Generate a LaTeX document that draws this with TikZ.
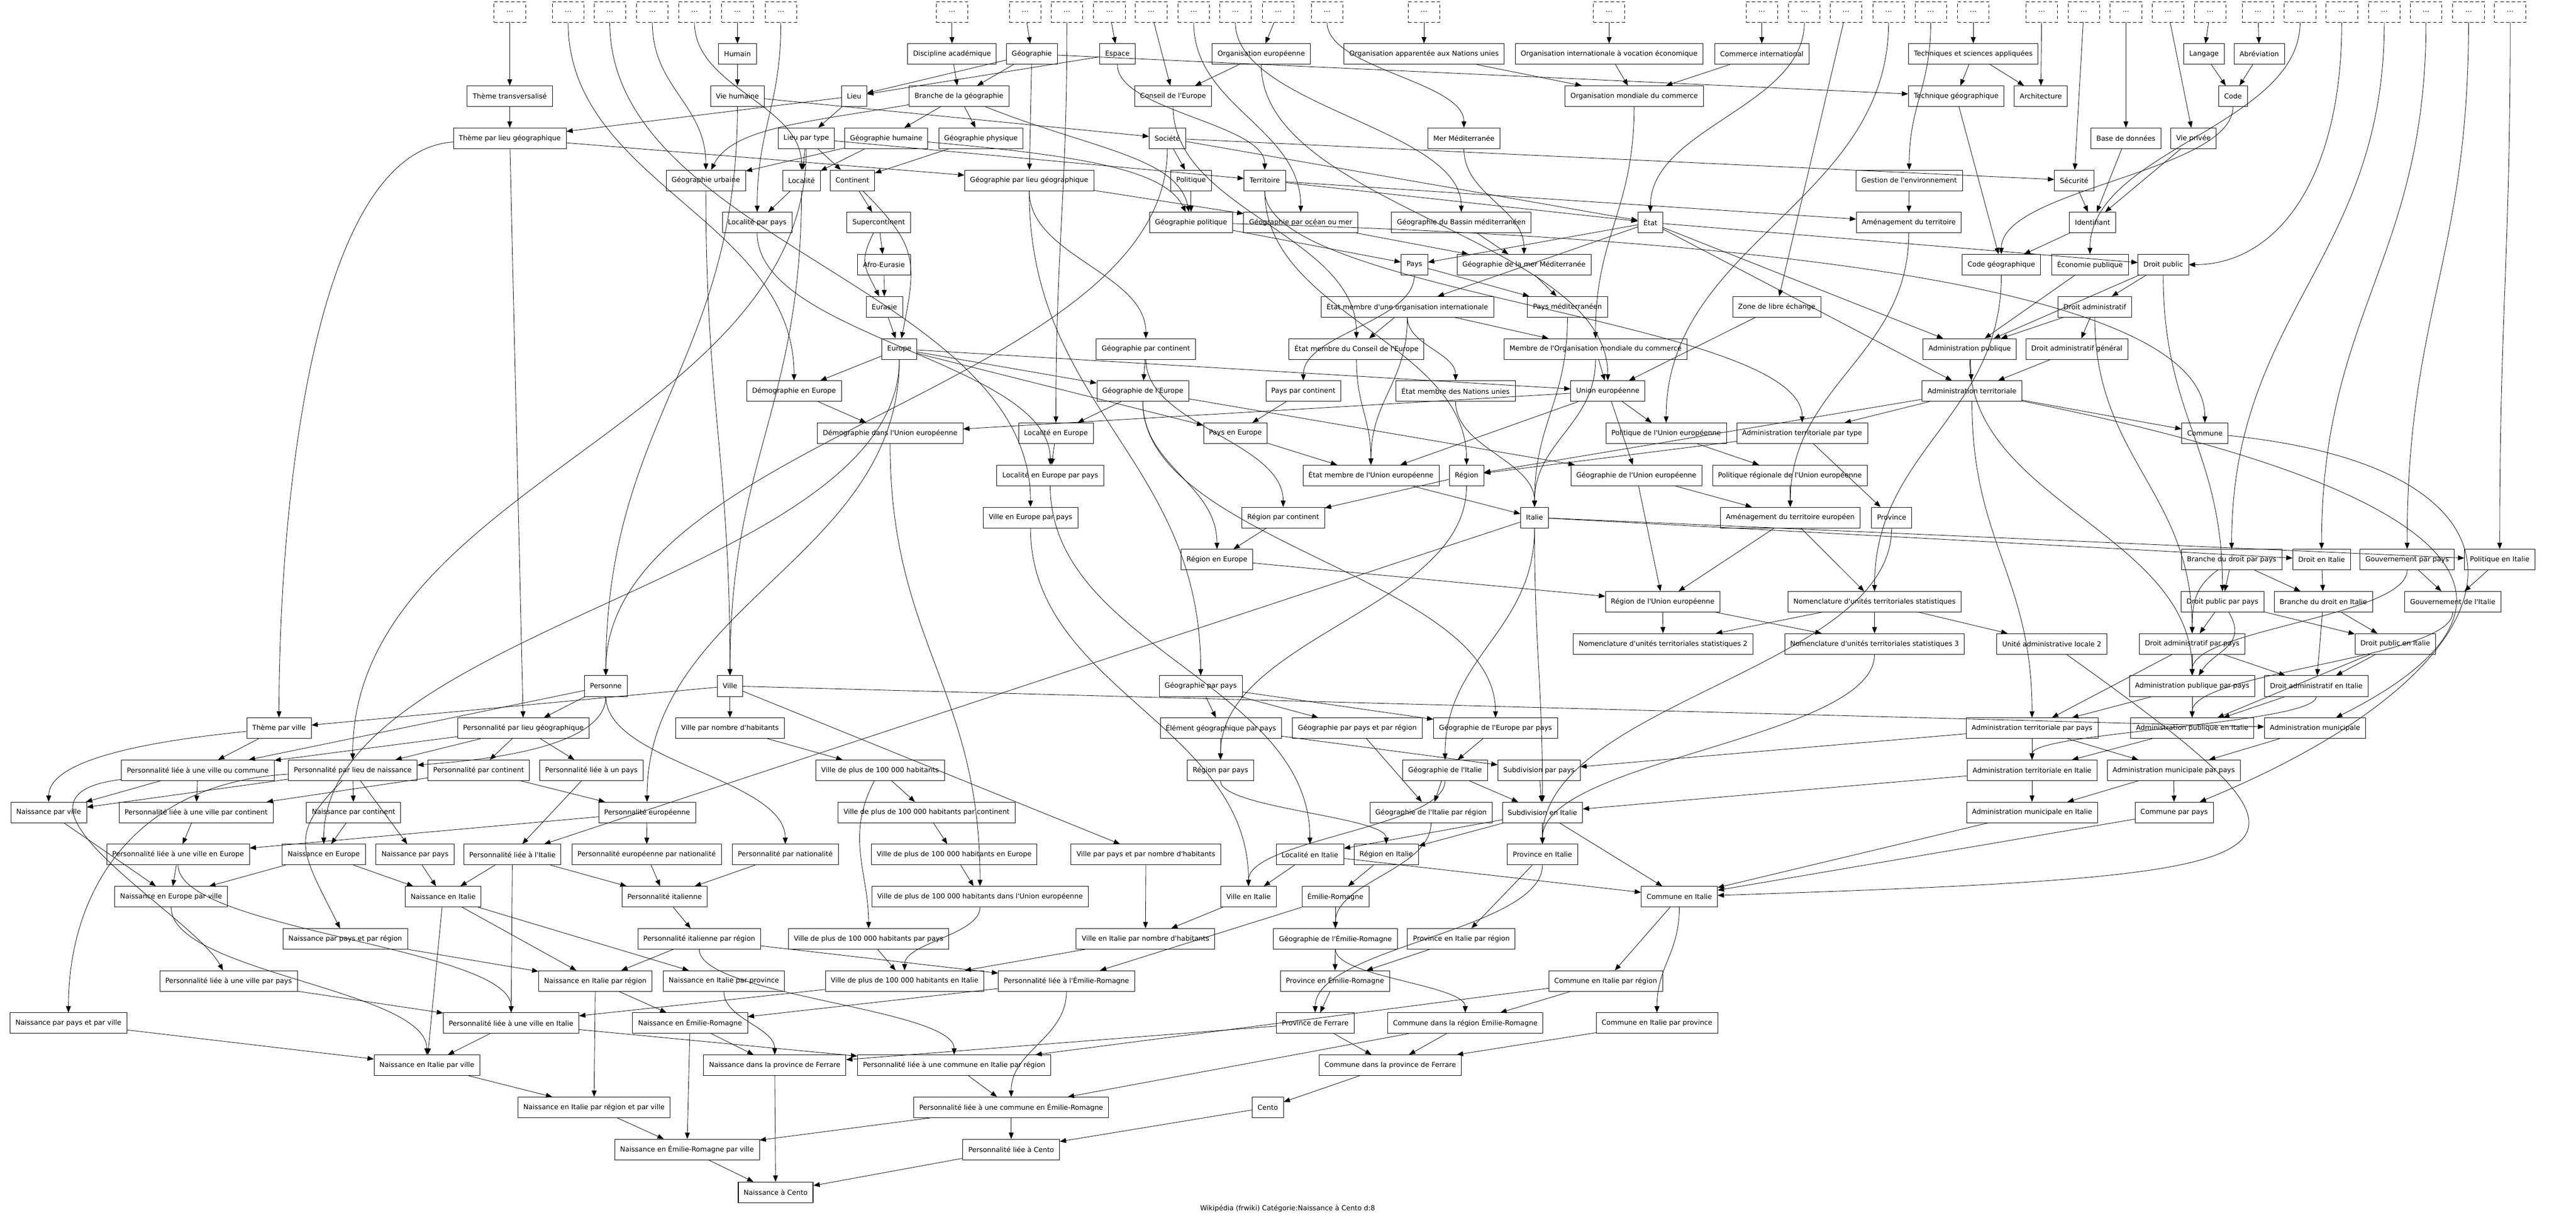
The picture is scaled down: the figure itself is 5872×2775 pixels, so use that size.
\documentclass[tikz,border=0pt]{standalone}
\usepackage{fontspec}
\setmainfont{DejaVu Sans}
\usetikzlibrary{arrows.meta,calc}
\newcommand{\apo}{\textquotesingle}
\newcommand{\Ed}[2]{\draw[ar] (#1) -- (#2);}
\newcommand{\Cu}[2]{\draw[ar] let \p1=(#1), \p2=(#2), \n1={0.45*abs(\y2-\y1)} in (#1) .. controls +(0pt,-\n1) and +(0pt,\n1) .. (#2);}
\tikzset{
 nd/.style={draw, line width=0.75pt, minimum height=36pt, inner xsep=9.6pt, inner ysep=2pt, font=\fontsize{12pt}{14pt}\selectfont},
 dsh/.style={draw, line width=0.75pt, dash pattern=on 6pt off 4pt, minimum width=55pt, minimum height=36pt, inner sep=0pt, font=\fontsize{12pt}{14pt}\selectfont},
 bnd/.style={nd, line width=1.5pt},
 ar/.style={-{Triangle[length=11pt,width=8.5pt]}, line width=0.75pt},
}
\begin{document}
\begin{tikzpicture}[x=0.766pt,y=-0.766pt]
\fill[white] (0,0) rectangle (5872,2775);
\path[use as bounding box] (0,0) rectangle (5872,2775);
% rank 0 dashed
\foreach \xx in {1162,1295,1390,1487,1583,1681,1780,2170,2337,2432,2529,2624,2721,2816,2914,3025,3246,3668,4016,4113,4208,4305,4401,4498,4654,4750,4846,4942,5038,5147,5243,5338,5435,5530,5627,5722}
  {\node[dsh] (d\xx) at (\xx,27) {…};}
% rank 1
\node[nd] (humain) at (1681,123) {Humain};
\node[nd] (discacad) at (2170,123) {Discipline académique};
\node[nd] (geo) at (2352,123) {Géographie};
\node[nd] (espace) at (2547,123) {Espace};
\node[nd] (orgeur) at (2875,123) {Organisation européenne};
\node[nd] (orgnu) at (3246,123) {Organisation apparentée aux Nations unies};
\node[nd] (orgeco) at (3668,123) {Organisation internationale à vocation économique};
\node[nd] (comint) at (4016,123) {Commerce international};
\node[nd] (techsci) at (4498,123) {Techniques et sciences appliquées};
\node[nd] (langage) at (5024,123) {Langage};
\node[nd] (abrev) at (5150,123) {Abréviation};
% rank 2
\node[nd] (ttrans) at (1162,219) {Thème transversalisé};
\node[nd] (viehum) at (1681,219) {Vie humaine};
\node[nd] (lieu) at (1947,219) {Lieu};
\node[nd] (branche) at (2186,219) {Branche de la géographie};
\node[nd] (conseil) at (2674,219) {Conseil de l\apo Europe};
\node[nd] (omc) at (3725,219) {Organisation mondiale du commerce};
\node[nd] (techgeo) at (4459,219) {Technique géographique};
\node[nd] (archi) at (4652,219) {Architecture};
\node[nd] (code) at (5090,219) {Code};
% rank 3
\node[nd] (tplg) at (1162,315) {Thème par lieu géographique};
\node[nd] (lieutype) at (1838,315) {Lieu par type};
\node[nd] (geohum) at (2020,315) {Géographie humaine};
\node[nd] (geophys) at (2236,315) {Géographie physique};
\node[nd] (societe) at (2661,315) {Société};
\node[nd] (mermed) at (3337,315) {Mer Méditerranée};
\node[nd] (basedon) at (4846,315) {Base de données};
\node[nd] (vieprivee) at (5000,315) {Vie privée};
% rank 4
\node[nd] (geourb) at (1609,411) {Géographie urbaine};
\node[nd] (localite) at (1827,411) {Localité};
\node[nd] (continent) at (1943,411) {Continent};
\node[nd] (gplg) at (2346,411) {Géographie par lieu géographique};
\node[nd] (politique) at (2715,411) {Politique};
\node[nd] (territoire) at (2883,411) {Territoire};
\node[nd] (gestenv) at (4352,411) {Gestion de l\apo environnement};
\node[nd] (securite) at (4728,411) {Sécurité};
% rank 5
\node[nd] (locpays) at (1726,507) {Localité par pays};
\node[nd] (supercont) at (2003,507) {Supercontinent};
\node[nd] (geopol) at (2715,507) {Géographie politique};
\node[nd] (geoocean) at (2965,507) {Géographie par océan ou mer};
\node[nd] (geobassin) at (3331,507) {Géographie du Bassin méditerranéen};
\node[nd] (etat) at (3762,507) {État};
\node[nd] (amenag) at (4351,507) {Aménagement du territoire};
\node[nd] (identif) at (4770,507) {Identifiant};
% rank 6
\node[nd] (afroeur) at (2015,603) {Afro-Eurasie};
\node[nd] (pays) at (3224,603) {Pays};
\node[nd] (geomermed) at (3474,603) {Géographie de la mer Méditerranée};
\node[nd] (codegeo) at (4562,603) {Code géographique};
\node[nd] (ecopub) at (4764,603) {Économie publique};
\node[nd] (droitpub) at (4931,603) {Droit public};
% rank 7
\node[nd] (eurasie) at (2016,699) {Eurasie};
\node[nd] (emoi) at (3208,699) {État membre d\apo une organisation internationale};
\node[nd] (paysmed) at (3573,699) {Pays méditerranéen};
\node[nd] (zle) at (4050,699) {Zone de libre échange};
\node[nd] (droitadm) at (4775,699) {Droit administratif};
% rank 8
\node[nd] (europe) at (2050,795) {Europe};
\node[nd] (geocont) at (2612,795) {Géographie par continent};
\node[nd] (emcde) at (3092,795) {État membre du Conseil de l\apo Europe};
\node[nd] (memomc) at (3637,795) {Membre de l\apo Organisation mondiale du commerce};
\node[nd] (adminpub) at (4490,795) {Administration publique};
\node[nd] (droitadmgen) at (4734,795) {Droit administratif général};
% rank 9
\node[nd] (demoeur) at (1810,891) {Démographie en Europe};
\node[nd] (geoeur) at (2605,891) {Géographie de l\apo Europe};
\node[nd] (payscont) at (2971,891) {Pays par continent};
\node[nd] (emnu) at (3318,891) {État membre des Nations unies};
\node[nd] (ue) at (3665,891) {Union européenne};
\node[nd] (admterr) at (4495,891) {Administration territoriale};
% rank 10
\node[nd] (demoue) at (2029,987) {Démographie dans l\apo Union européenne};
\node[nd] (loceur) at (2407,987) {Localité en Europe};
\node[nd] (payseur) at (2816,987) {Pays en Europe};
\node[nd] (polue) at (3798,987) {Politique de l\apo Union européenne};
\node[nd] (atpt) at (4108,987) {Administration territoriale par type};
\node[nd] (commune) at (5026,987) {Commune};
% rank 11
\node[nd] (loceurpays) at (2394,1083) {Localité en Europe par pays};
\node[nd] (emue) at (3125,1083) {État membre de l\apo Union européenne};
\node[nd] (region) at (3343,1083) {Région};
\node[nd] (geoue) at (3730,1083) {Géographie de l\apo Union européenne};
\node[nd] (polregue) at (4080,1083) {Politique régionale de l\apo Union européenne};
% rank 12
\node[nd] (villeeurpays) at (2349,1179) {Ville en Europe par pays};
\node[nd] (regcont) at (2925,1179) {Région par continent};
\node[nd] (italie) at (3498,1179) {Italie};
\node[nd] (atde) at (4081,1179) {Aménagement du territoire européen};
\node[nd] (province) at (4312,1179) {Province};
% rank 13
\node[nd] (regeur) at (2774,1275) {Région en Europe};
\node[nd] (bdpp) at (5087,1275) {Branche du droit par pays};
\node[nd] (droitit) at (5292,1275) {Droit en Italie};
\node[nd] (gouvpp) at (5487,1275) {Gouvernement par pays};
\node[nd] (polit) at (5698,1275) {Politique en Italie};
% rank 14
\node[nd] (regue) at (3790,1371) {Région de l\apo Union européenne};
\node[nd] (nuts) at (4273,1371) {Nomenclature d\apo unités territoriales statistiques};
\node[nd] (dppp) at (5066,1371) {Droit public par pays};
\node[nd] (bdit) at (5296,1371) {Branche du droit en Italie};
\node[nd] (gouvit) at (5591,1371) {Gouvernement de l\apo Italie};
% rank 15
\node[nd] (nuts2) at (3791,1467) {Nomenclature d\apo unités territoriales statistiques 2};
\node[nd] (nuts3) at (4273,1467) {Nomenclature d\apo unités territoriales statistiques 3};
\node[nd] (ual2) at (4677,1467) {Unité administrative locale 2};
\node[nd] (dapp) at (4997,1467) {Droit administratif par pays};
\node[nd] (dpit) at (5460,1467) {Droit public en Italie};
% rank 16
\node[nd] (personne) at (1381,1563) {Personne};
\node[nd] (ville) at (1664,1563) {Ville};
\node[nd] (geopays) at (2737,1563) {Géographie par pays};
\node[nd] (appp) at (4997,1563) {Administration publique par pays};
\node[nd] (dait) at (5280,1563) {Droit administratif en Italie};
% rank 17
\node[nd] (themeville) at (636,1659) {Thème par ville};
\node[nd] (pplg) at (1193,1659) {Personnalité par lieu géographique};
\node[nd] (villenb) at (1664,1659) {Ville par nombre d\apo habitants};
\node[nd] (elemgeo) at (2783,1659) {Élément géographique par pays};
\node[nd] (geopaysreg) at (3094,1659) {Géographie par pays et par région};
\node[nd] (geoeurpays) at (3409,1659) {Géographie de l\apo Europe par pays};
\node[nd] (atpp) at (4632,1659) {Administration territoriale par pays};
\node[nd] (apit) at (4997,1659) {Administration publique en Italie};
\node[nd] (admmun) at (5277,1659) {Administration municipale};
% rank 18
\node[nd] (plvc) at (451,1755) {Personnalité liée à une ville ou commune};
\node[nd] (ppln) at (804,1755) {Personnalité par lieu de naissance};
\node[nd] (ppcont) at (1091,1755) {Personnalité par continent};
\node[nd] (plpays) at (1348,1755) {Personnalité liée à un pays};
\node[nd] (v100k) at (2006,1755) {Ville de plus de 100~000 habitants};
\node[nd] (regpays) at (2782,1755) {Région par pays};
\node[nd] (geoit) at (3294,1755) {Géographie de l\apo Italie};
\node[nd] (subdpays) at (3508,1755) {Subdivision par pays};
\node[nd] (atit) at (4632,1755) {Administration territoriale en Italie};
\node[nd] (ampp) at (4955,1755) {Administration municipale par pays};
% rank 19
\node[nd] (naissville) at (111,1851) {Naissance par ville};
\node[nd] (plvcont) at (447,1851) {Personnalité liée à une ville par continent};
\node[nd] (naisscont) at (806,1851) {Naissance par continent};
\node[nd] (perseur) at (1475,1851) {Personnalité européenne};
\node[nd] (v100kcont) at (2112,1851) {Ville de plus de 100~000 habitants par continent};
\node[nd] (geoitreg) at (3262,1851) {Géographie de l\apo Italie par région};
\node[nd] (subdit) at (3516,1851) {Subdivision en Italie};
\node[nd] (amit) at (4632,1851) {Administration municipale en Italie};
\node[nd] (communepays) at (4956,1851) {Commune par pays};
% rank 20
\node[nd] (plveur) at (406,1947) {Personnalité liée à une ville en Europe};
\node[nd] (naisseur) at (738,1947) {Naissance en Europe};
\node[nd] (naisspays) at (946,1947) {Naissance par pays};
\node[nd] (plit) at (1168,1947) {Personnalité liée à l\apo Italie};
\node[nd] (pepn) at (1474,1947) {Personnalité européenne par nationalité};
\node[nd] (ppnat) at (1790,1947) {Personnalité par nationalité};
\node[nd] (v100keur) at (2175,1947) {Ville de plus de 100~000 habitants en Europe};
\node[nd] (vppnh) at (2612,1947) {Ville par pays et par nombre d\apo habitants};
\node[nd] (locit) at (2986,1947) {Localité en Italie};
\node[nd] (regit) at (3160,1947) {Région en Italie};
\node[nd] (provit) at (3516,1947) {Province en Italie};
% rank 21
\node[nd] (naisseurville) at (390,2043) {Naissance en Europe par ville};
\node[nd] (naissit) at (1010,2043) {Naissance en Italie};
\node[nd] (persit) at (1515,2043) {Personnalité italienne};
\node[nd] (v100kue) at (2234,2043) {Ville de plus de 100~000 habitants dans l\apo Union européenne};
\node[nd] (villeit) at (2846,2043) {Ville en Italie};
\node[nd] (er) at (3044,2043) {Émilie-Romagne};
\node[nd] (communeit) at (3828,2043) {Commune en Italie};
% rank 22
\node[nd] (naisspaysreg) at (787,2139) {Naissance par pays et par région};
\node[nd] (persitreg) at (1594,2139) {Personnalité italienne par région};
\node[nd] (v100kpays) at (1980,2139) {Ville de plus de 100~000 habitants par pays};
\node[nd] (vitnb) at (2611,2139) {Ville en Italie par nombre d\apo habitants};
\node[nd] (geoer) at (3044,2139) {Géographie de l\apo Émilie-Romagne};
\node[nd] (provitreg) at (3331,2139) {Province en Italie par région};
% rank 23
\node[nd] (plvpays) at (521,2235) {Personnalité liée à une ville par pays};
\node[nd] (naissitreg) at (1357,2235) {Naissance en Italie par région};
\node[nd] (naissitprov) at (1650,2235) {Naissance en Italie par province};
\node[nd] (v100kit) at (2062,2235) {Ville de plus de 100~000 habitants en Italie};
\node[nd] (pler) at (2431,2235) {Personnalité liée à l\apo Émilie-Romagne};
\node[nd] (proveer) at (3043,2235) {Province en Émilie-Romagne};
\node[nd] (communeitreg) at (3660,2235) {Commune en Italie par région};
% rank 24
\node[nd] (naisspaysville) at (156,2331) {Naissance par pays et par ville};
\node[nd] (plvit) at (1165,2331) {Personnalité liée à une ville en Italie};
\node[nd] (naisser) at (1573,2331) {Naissance en Émilie-Romagne};
\node[nd] (provferrare) at (2998,2331) {Province de Ferrare};
\node[nd] (communeregER) at (3340,2331) {Commune dans la région Émilie-Romagne};
\node[nd] (communeitprov) at (3777,2331) {Commune en Italie par province};
% rank 25
\node[nd] (naissitville) at (973,2427) {Naissance en Italie par ville};
\node[nd] (naissferrare) at (1766,2427) {Naissance dans la province de Ferrare};
\node[nd] (plcitreg) at (2175,2427) {Personnalité liée à une commune en Italie par région};
\node[nd] (communeferrare) at (3169,2427) {Commune dans la province de Ferrare};
% rank 26
\node[nd] (naissitregville) at (1354,2523) {Naissance en Italie par région et par ville};
\node[nd] (plcer) at (2305,2523) {Personnalité liée à une commune en Émilie-Romagne};
\node[nd] (cento) at (2890,2523) {Cento};
% rank 27
\node[nd] (naisserville) at (1566,2619) {Naissance en Émilie-Romagne par ville};
\node[nd] (plcento) at (2305,2619) {Personnalité liée à Cento};
% rank 28
\node[bnd] (naisscento) at (1768,2717) {Naissance à Cento};
\node[font=\fontsize{12pt}{14pt}\selectfont] (cap) at (2935,2753) {Wikipédia (frwiki) Catégorie:Naissance à Cento d:8};

% ---- edges from dashed
\Ed{d1162}{ttrans}
\Cu{d1295}{demoeur}
\Cu{d1390}{villeeurpays}
\Cu{d1487}{geourb}
\Cu{d1583}{localite}
\Ed{d1681}{humain}
\Cu{d1780}{locpays}
\Ed{d2170}{discacad}
\Ed{d2337}{geo}
\Cu{d2432}{loceur}
\Ed{d2529}{espace}
\Ed{d2624}{conseil}
\Cu{d2721}{geoocean}
\Cu{d2816}{geobassin}
\Ed{d2914}{orgeur}
\Cu{d3025}{mermed}
\Ed{d3246}{orgnu}
\Ed{d3668}{orgeco}
\Ed{d4016}{comint}
\Cu{d4113}{etat}
\Ed{d4208}{zle}
\Cu{d4305}{polue}
\Cu{d4401}{gestenv}
\Ed{d4498}{techsci}
\Ed{d4654}{archi}
\Ed{d4750}{securite}
\Ed{d4846}{basedon}
\Ed{d4942}{vieprivee}
\Ed{d5038}{langage}
\Ed{d5147}{abrev}
\Cu{d5243}{ecopub}
\draw[ar] (d5338) .. controls +(0,380) and +(260,0) .. (droitpub);
\Cu{d5435}{bdpp}
\Cu{d5530}{droitit}
\Cu{d5627}{gouvpp}
\Cu{d5722}{polit}
% ---- upper part
\Ed{ttrans}{tplg}
\Ed{lieu}{tplg}
\Ed{humain}{viehum}
\Ed{geo}{lieu}
\Ed{espace}{lieu}
\Ed{discacad}{branche}
\Ed{geo}{branche}
\Ed{orgeur}{conseil}
\Ed{orgnu}{omc}
\Ed{orgeco}{omc}
\Ed{comint}{omc}
\Ed{techsci}{techgeo}
\Ed{geo}{techgeo}
\Ed{techsci}{archi}
\Ed{langage}{code}
\Ed{abrev}{code}
\Ed{lieu}{lieutype}
\Ed{branche}{geohum}
\Ed{branche}{geophys}
\Ed{viehum}{societe}
\Ed{geohum}{geourb}
\draw[ar] (branche) .. controls +(-350,60) and +(60,-120) .. (geourb);
\Ed{lieutype}{localite}
\Ed{geohum}{localite}
\Ed{lieutype}{continent}
\Ed{geophys}{continent}
\Ed{tplg}{gplg}
\Ed{geo}{gplg}
\Ed{societe}{politique}
\Cu{espace}{territoire}
\Ed{lieutype}{territoire}
\Ed{societe}{securite}
\Ed{localite}{locpays}
\Ed{continent}{supercont}
\draw[ar] (geohum) .. controls +(450,40) and +(-60,-120) .. (geopol);
\Ed{politique}{geopol}
\draw[ar] (branche) .. controls +(300,120) and +(-30,-150) .. (geopol);
\Ed{gplg}{geoocean}
\Ed{societe}{etat}
\Ed{territoire}{etat}
\Ed{territoire}{amenag}
\Ed{gestenv}{amenag}
\Ed{securite}{identif}
\Ed{basedon}{identif}
\Ed{vieprivee}{identif}
\Ed{supercont}{afroeur}
\Ed{geopol}{pays}
\Ed{etat}{pays}
\Ed{geobassin}{geomermed}
\Cu{mermed}{geomermed}
\Ed{geoocean}{geomermed}
\Ed{techgeo}{codegeo}
\Ed{identif}{codegeo}
\Cu{code}{codegeo}
\Ed{etat}{droitpub}
\Ed{afroeur}{eurasie}
\draw[ar] (supercont) .. controls +(-45,90) and +(-45,-90) .. (eurasie);
\Ed{etat}{emoi}
\Ed{pays}{paysmed}
\Ed{geomermed}{paysmed}
\Ed{droitpub}{droitadm}
\Ed{eurasie}{europe}
\draw[ar] (continent) .. controls +(150,150) and +(40,-200) .. (europe);
\Cu{gplg}{geocont}
\Ed{emoi}{emcde}
\Cu{conseil}{emcde}
\Ed{emoi}{memomc}
\Cu{omc}{memomc}
\Ed{etat}{adminpub}
\Ed{ecopub}{adminpub}
\Ed{droitpub}{adminpub}
\Ed{droitadm}{adminpub}
\Ed{droitadm}{droitadmgen}
\Ed{europe}{demoeur}
\Ed{europe}{geoeur}
\Ed{geocont}{geoeur}
\Cu{pays}{payscont}
\Cu{emoi}{emnu}
\Ed{memomc}{ue}
\Ed{zle}{ue}
\Cu{orgeur}{ue}
\Ed{europe}{ue}
\Ed{adminpub}{admterr}
\Ed{droitadmgen}{admterr}
\Ed{etat}{admterr}
\Ed{demoeur}{demoue}
\Ed{ue}{demoue}
\Ed{geoeur}{loceur}
\Ed{europe}{payseur}
\Ed{payscont}{payseur}
\Ed{ue}{polue}
\Ed{admterr}{atpt}
\Cu{territoire}{atpt}
\Ed{admterr}{commune}
\draw[ar] (geopol) .. controls +(1500,40) and +(0,-300) .. (commune);
\Ed{loceur}{loceurpays}
\Cu{locpays}{loceurpays}
\Cu{emcde}{emue}
\Cu{emoi}{emue}
\Ed{ue}{emue}
\Ed{payseur}{emue}
\Cu{territoire}{region}
\Ed{atpt}{region}
\Ed{admterr}{region}
\Ed{geoeur}{geoue}
\Ed{ue}{geoue}
\Ed{polue}{polregue}
\Ed{region}{regcont}
\Cu{geocont}{regcont}
\Ed{emue}{italie}
\Cu{emnu}{italie}
\Cu{paysmed}{italie}
\Cu{memomc}{italie}
\Ed{geoue}{atde}
\Ed{polregue}{atde}
\Cu{amenag}{atde}
\Ed{atpt}{province}
\Ed{regcont}{regeur}
\Cu{geoeur}{regeur}
\Ed{italie}{droitit}
\Ed{italie}{polit}
\Ed{regeur}{regue}
\Ed{geoue}{regue}
\Ed{atde}{regue}
\Ed{atde}{nuts}
\Cu{codegeo}{nuts}
\Ed{bdpp}{dppp}
\Cu{droitpub}{dppp}
\Ed{bdpp}{bdit}
\Ed{droitit}{bdit}
\Ed{gouvpp}{gouvit}
\Ed{polit}{gouvit}
\Ed{regue}{nuts2}
\Ed{nuts}{nuts2}
\Ed{regue}{nuts3}
\Ed{nuts}{nuts3}
\Ed{nuts}{ual2}
\Ed{dppp}{dapp}
\draw[ar] (bdpp) .. controls +(-80,60) and +(0,-100) .. (dapp);
\Cu{droitadm}{dapp}
\Ed{dppp}{dpit}
\Ed{bdit}{dpit}
% ---- middle
\Cu{viehum}{personne}
\Cu{societe}{personne}
\Cu{geourb}{ville}
\Cu{localite}{ville}
\Cu{gplg}{geopays}
\Ed{dapp}{appp}
\draw[ar] (dppp) .. controls +(60,100) and +(50,-80) .. (appp);
\Cu{gouvpp}{appp}
\Cu{adminpub}{appp}
\Ed{dapp}{dait}
\Ed{bdit}{dait}
\Ed{dpit}{dait}
\draw[ar] (tplg) .. controls +(-450,30) and +(0,-500) .. (themeville);
\Ed{ville}{themeville}
\Ed{tplg}{pplg}
\Ed{personne}{pplg}
\Ed{ville}{villenb}
\Ed{geopays}{elemgeo}
\Ed{geopays}{geopaysreg}
\Ed{geopays}{geoeurpays}
\Cu{geoeur}{geoeurpays}
\Cu{admterr}{atpp}
\Ed{appp}{atpp}
\Ed{dapp}{atpp}
\Ed{appp}{apit}
\Ed{dait}{apit}
\Cu{gouvit}{apit}
\Ed{dpit}{apit}
\Ed{ville}{admmun}
\draw[ar] (admterr) .. controls +(1250,250) and +(500,-250) .. (admmun);
\Ed{themeville}{plvc}
\Ed{personne}{plvc}
\Ed{pplg}{plvc}
\Ed{pplg}{ppln}
\draw[ar] (personne) .. controls +(0,150) and +(250,-20) .. (ppln);
\Cu{lieutype}{ppln}
\Ed{pplg}{ppcont}
\Ed{pplg}{plpays}
\Ed{villenb}{v100k}
\Ed{elemgeo}{regpays}
\Cu{region}{regpays}
\Ed{geoeurpays}{geoit}
\Cu{italie}{geoit}
\Ed{elemgeo}{subdpays}
\Ed{atpp}{subdpays}
\Ed{atpp}{atit}
\Ed{apit}{atit}
\Cu{dait}{atit}
\Ed{atpp}{ampp}
\Ed{admmun}{ampp}
\draw[ar] (themeville) .. controls +(-300,30) and +(0,-120) .. (naissville);
\Ed{plvc}{naissville}
\Ed{ppln}{naissville}
\Ed{plvc}{plvcont}
\Ed{ppcont}{plvcont}
\Ed{ppln}{naisscont}
\Ed{ppcont}{perseur}
\Cu{europe}{perseur}
\Ed{v100k}{v100kcont}
\Ed{geoit}{geoitreg}
\Ed{geopaysreg}{geoitreg}
\Ed{geoit}{subdit}
\Ed{subdpays}{subdit}
\Cu{italie}{subdit}
\Ed{atit}{subdit}
\Ed{atit}{amit}
\Ed{ampp}{amit}
\Ed{ampp}{communepays}
\draw[ar] (commune) .. controls +(800,80) and +(850,-350) .. (communepays);
% ---- lower
\Ed{plvcont}{plveur}
\Ed{perseur}{plveur}
\Ed{naisscont}{naisseur}
\Cu{europe}{naisseur}
\Ed{ppln}{naisspays}
\Ed{plpays}{plit}
\Ed{italie}{plit}
\Ed{perseur}{pepn}
\Cu{personne}{ppnat}
\Ed{v100kcont}{v100keur}
\Ed{ville}{vppnh}
\Cu{loceurpays}{locit}
\Ed{subdit}{locit}
\Cu{regpays}{regit}
\Ed{subdit}{regit}
\Ed{subdit}{provit}
\Cu{province}{provit}
\Cu{nuts3}{provit}
\Ed{plveur}{naisseurville}
\Ed{naisseur}{naisseurville}
\Ed{naissville}{naisseurville}
\Ed{naisseur}{naissit}
\Ed{naisspays}{naissit}
\Ed{plit}{naissit}
\Ed{plit}{persit}
\Ed{pepn}{persit}
\Ed{ppnat}{persit}
\Ed{v100keur}{v100kue}
\Cu{demoue}{v100kue}
\Cu{villeeurpays}{villeit}
\Cu{geoit}{villeit}
\Ed{locit}{villeit}
\Ed{regit}{er}
\Ed{subdit}{communeit}
\Ed{locit}{communeit}
\Ed{amit}{communeit}
\Ed{communepays}{communeit}
\draw[ar] (ual2) .. controls +(700,500) and +(1500,-50) .. (communeit);
\draw[ar] (ppln) .. controls +(-150,150) and +(-100,-200) .. (naisspaysreg);
\Ed{persit}{persitreg}
\draw[ar] (v100k) .. controls +(-80,150) and +(0,-150) .. (v100kpays);
\Ed{vppnh}{vitnb}
\Ed{villeit}{vitnb}
\Ed{er}{geoer}
\Cu{geoitreg}{geoer}
\Ed{provit}{provitreg}
\draw[ar] (plvc) .. controls +(-500,60) and +(-80,-150) .. (plvpays);
\Ed{naisspaysreg}{naissitreg}
\Ed{naissit}{naissitreg}
\Ed{persitreg}{naissitreg}
\Ed{naissit}{naissitprov}
\Ed{v100kpays}{v100kit}
\Cu{v100kue}{v100kit}
\Ed{vitnb}{v100kit}
\Ed{persitreg}{pler}
\Ed{er}{pler}
\Ed{geoer}{proveer}
\Ed{provitreg}{proveer}
\Ed{communeit}{communeitreg}
\draw[ar] (ppln) .. controls +(-500,30) and +(0,-300) .. (naisspaysville);
\Cu{plveur}{plvit}
\Ed{plvpays}{plvit}
\Ed{plit}{plvit}
\Ed{v100kit}{plvit}
\Ed{naissitreg}{naisser}
\Ed{pler}{naisser}
\Ed{proveer}{provferrare}
\Cu{provit}{provferrare}
\Cu{geoer}{communeregER}
\Ed{communeitreg}{communeregER}
\Cu{communeit}{communeitprov}
\Ed{naisspaysville}{naissitville}
\Cu{naisseurville}{naissitville}
\Ed{naissit}{naissitville}
\Ed{plvit}{naissitville}
\Ed{naisser}{naissferrare}
\Cu{naissitprov}{naissferrare}
\Ed{provferrare}{naissferrare}
\Cu{persitreg}{plcitreg}
\Ed{communeitreg}{plcitreg}
\Ed{plvit}{plcitreg}
\Ed{provferrare}{communeferrare}
\Ed{communeregER}{communeferrare}
\Ed{communeitprov}{communeferrare}
\Ed{naissitville}{naissitregville}
\Ed{naissitreg}{naissitregville}
\Ed{plcitreg}{plcer}
\Cu{pler}{plcer}
\Ed{communeregER}{plcer}
\Ed{communeferrare}{cento}
\Ed{naisser}{naisserville}
\Ed{plcer}{naisserville}
\Ed{naissitregville}{naisserville}
\Ed{plcer}{plcento}
\Ed{cento}{plcento}
\Ed{naisserville}{naisscento}
\Ed{naissferrare}{naisscento}
\Ed{plcento}{naisscento}
\end{tikzpicture}
\end{document}
